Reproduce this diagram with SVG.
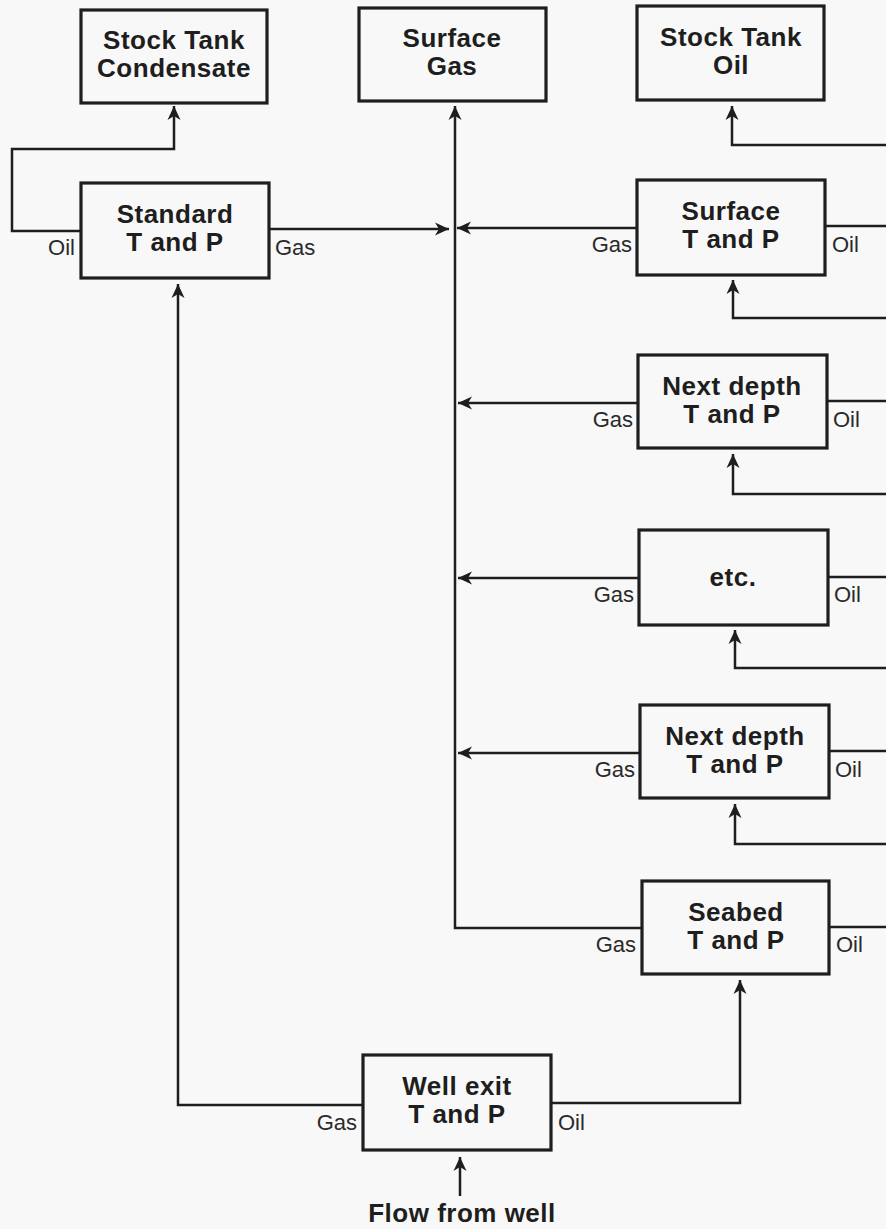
<svg xmlns="http://www.w3.org/2000/svg" width="886" height="1229" viewBox="0 0 886 1229">
<style>
.box{fill:none;stroke:#1e1e1e;stroke-width:3.2}
.t{font-family:"Liberation Sans",Arial,sans-serif;font-weight:bold;font-size:26px;letter-spacing:0.5px;fill:#1e1e1e;text-anchor:middle}
.l{font-family:"Liberation Sans",Arial,sans-serif;font-size:22px;fill:#2a2a2a}
.c{fill:none;stroke:#1e1e1e;stroke-width:2.5}
</style>
<defs>
<marker id="ah" viewBox="-15 -8 16 16" markerWidth="16" markerHeight="16" refX="0" refY="0" markerUnits="userSpaceOnUse" orient="auto">
<path d="M-14,-6.5 L0,0 L-14,6.5 L-10,0 z" fill="#1e1e1e"/>
</marker>
</defs>
<rect width="886" height="1229" fill="#f8f8f8"/>
<g id="connectors">
<path class="c" d="M81,231 H12 V149 H174 V106" marker-end="url(#ah)"/>
<path class="c" d="M269,229 H449" marker-end="url(#ah)"/>
<path class="c" d="M637,228 H457" marker-end="url(#ah)"/>
<path class="c" d="M642,928 H455 V106" marker-end="url(#ah)"/>
<path class="c" d="M638,403 H458" marker-end="url(#ah)"/>
<path class="c" d="M639,578 H458" marker-end="url(#ah)"/>
<path class="c" d="M640,753 H458" marker-end="url(#ah)"/>
<path class="c" d="M825,226 H886"/>
<path class="c" d="M886,145 H732 V106" marker-end="url(#ah)"/>
<path class="c" d="M886,318 H733 V280" marker-end="url(#ah)"/>
<path class="c" d="M827,401 H886"/>
<path class="c" d="M886,494 H733 V454" marker-end="url(#ah)"/>
<path class="c" d="M828,577 H886"/>
<path class="c" d="M886,668 H735 V630" marker-end="url(#ah)"/>
<path class="c" d="M829,751 H886"/>
<path class="c" d="M886,844 H735 V804" marker-end="url(#ah)"/>
<path class="c" d="M829,927 H886"/>
<path class="c" d="M363,1105 H178 V284" marker-end="url(#ah)"/>
<path class="c" d="M551,1103 H740 V980" marker-end="url(#ah)"/>
<path class="c" d="M460,1196 V1157" marker-end="url(#ah)"/>
</g>
<g id="stock-tank-condensate">
<rect class="box" x="81" y="10" width="186" height="93"/>
<text class="t" x="174" y="49">Stock Tank</text>
<text class="t" x="174" y="77">Condensate</text>
</g>
<g id="surface-gas">
<rect class="box" x="359" y="8" width="187" height="93"/>
<text class="t" x="452" y="47">Surface</text>
<text class="t" x="452" y="75">Gas</text>
</g>
<g id="stock-tank-oil">
<rect class="box" x="637" y="6" width="187" height="94"/>
<text class="t" x="731" y="46">Stock Tank</text>
<text class="t" x="731" y="74">Oil</text>
</g>
<g id="standard">
<rect class="box" x="81" y="183" width="188" height="95"/>
<text class="t" x="175" y="223">Standard</text>
<text class="t" x="175" y="251">T and P</text>
<text class="l" x="75" y="255" text-anchor="end">Oil</text>
<text class="l" x="275" y="255">Gas</text>
</g>
<g id="surface-tp">
<rect class="box" x="637" y="180" width="188" height="95"/>
<text class="t" x="731" y="220">Surface</text>
<text class="t" x="731" y="248">T and P</text>
<text class="l" x="632" y="252" text-anchor="end">Gas</text>
<text class="l" x="832" y="252">Oil</text>
</g>
<g id="next-depth-1">
<rect class="box" x="638" y="355" width="189" height="93"/>
<text class="t" x="732" y="395">Next depth</text>
<text class="t" x="732" y="423">T and P</text>
<text class="l" x="633" y="427" text-anchor="end">Gas</text>
<text class="l" x="833" y="427">Oil</text>
</g>
<g id="etc">
<rect class="box" x="639" y="530" width="189" height="95"/>
<text class="t" x="733" y="586">etc.</text>
<text class="l" x="634" y="602" text-anchor="end">Gas</text>
<text class="l" x="834" y="602">Oil</text>
</g>
<g id="next-depth-2">
<rect class="box" x="640" y="705" width="189" height="93"/>
<text class="t" x="735" y="745">Next depth</text>
<text class="t" x="735" y="773">T and P</text>
<text class="l" x="635" y="777" text-anchor="end">Gas</text>
<text class="l" x="835" y="777">Oil</text>
</g>
<g id="seabed">
<rect class="box" x="642" y="881" width="187" height="93"/>
<text class="t" x="736" y="921">Seabed</text>
<text class="t" x="736" y="949">T and P</text>
<text class="l" x="636" y="952" text-anchor="end">Gas</text>
<text class="l" x="836" y="952">Oil</text>
</g>
<g id="well-exit">
<rect class="box" x="363" y="1055" width="188" height="95"/>
<text class="t" x="457" y="1095">Well exit</text>
<text class="t" x="457" y="1123">T and P</text>
<text class="l" x="357" y="1130" text-anchor="end">Gas</text>
<text class="l" x="558" y="1130">Oil</text>
</g>
<g id="flow-from-well">
<text class="t" x="462" y="1222">Flow from well</text>
</g>
</svg>
